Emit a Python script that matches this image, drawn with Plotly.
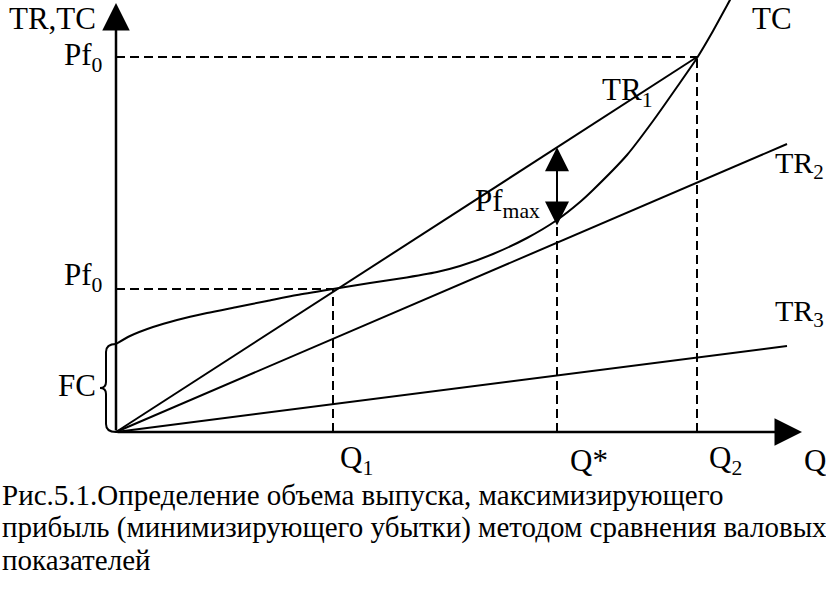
import plotly.graph_objects as go

# Data (units: screen-ish units relative to origin)
q_marks = {"Q1": 217, "Qstar": 441, "Q2": 581}
pf0_low = 143
pf0_high = 375
fc = 88

tr1_end = (581, 375)
tr2_end = (671, 288)
tr3_end = (671, 86)

tc_q = [0, 14, 37, 61, 91, 121, 151, 181, 217, 254, 284, 321, 344, 377, 411, 441, 464, 477, 511, 537, 561, 581, 597, 614, 624]
tc_v = [88, 96, 105, 112, 119, 125, 131, 137, 143, 149, 153.5, 160, 166, 178, 194, 212, 230, 242, 277, 311, 345, 374, 401, 432, 450]

x_axis_end = 686
y_axis_end = 429
pfmax_top = q_marks["Qstar"] * tr1_end[1] / tr1_end[0]
pfmax_bot = 205

FONT = "Liberation Serif"
LW = 2

fig = go.Figure()

def line(xs, ys, dash="solid", width=LW):
    fig.add_trace(go.Scatter(x=xs, y=ys, mode="lines",
                             line=dict(color="black", width=width, dash=dash),
                             hoverinfo="skip", showlegend=False))

# revenue lines
line([0, tr1_end[0]], [0, tr1_end[1]])
line([0, tr2_end[0]], [0, tr2_end[1]])
line([0, tr3_end[0]], [0, tr3_end[1]])
# TC curve
fig.add_trace(go.Scatter(x=tc_q, y=tc_v, mode="lines",
                         line=dict(color="black", width=LW, shape="spline", smoothing=0.6),
                         hoverinfo="skip", showlegend=False))

# dashed guides
dash = "9px,5px"
line([0, q_marks["Q2"]], [pf0_high, pf0_high], dash=dash)
line([q_marks["Q2"], q_marks["Q2"]], [0, pf0_high], dash=dash)
line([0, q_marks["Q1"]], [pf0_low, pf0_low], dash=dash)
line([q_marks["Q1"], q_marks["Q1"]], [0, pf0_low], dash=dash)
line([q_marks["Qstar"], q_marks["Qstar"]], [0, pfmax_bot], dash=dash)

annotations = []
# axes with arrows
annotations.append(dict(x=x_axis_end, y=0, ax=0, ay=0, xref="x", yref="y", axref="x", ayref="y",
                        showarrow=True, arrowhead=2, arrowsize=2.2, arrowwidth=2.5, arrowcolor="black", text=""))
annotations.append(dict(x=0, y=y_axis_end, ax=0, ay=0, xref="x", yref="y", axref="x", ayref="y",
                        showarrow=True, arrowhead=2, arrowsize=2.2, arrowwidth=2.5, arrowcolor="black", text=""))
# Pfmax double arrow
annotations.append(dict(x=q_marks["Qstar"], y=pfmax_top, ax=q_marks["Qstar"], ay=pfmax_bot,
                        xref="x", yref="y", axref="x", ayref="y",
                        showarrow=True, arrowhead=2, startarrowhead=2, arrowside="end+start",
                        arrowsize=2.4, startarrowsize=2.4, arrowwidth=2, arrowcolor="black", text=""))

def label(x, y, text, xanchor="left", size=31):
    annotations.append(dict(x=x, y=y, xref="x", yref="y", text=text, showarrow=False,
                            xanchor=xanchor, yanchor="middle",
                            font=dict(family=FONT, size=size, color="black")))

label(-18, 414, "TR,TC", xanchor="right")
label(-11, pf0_high, "Pf<sub>0</sub>", xanchor="right")
label(-11, pf0_low + 12, "Pf<sub>0</sub>", xanchor="right")
label(-18, 47, "FC", xanchor="right")
label(484, 340, "TR<sub>1</sub>")
label(634, 414, "TC")
label(710, 267, "TR<sub>2</sub>", xanchor="right", size=30)
label(710, 119, "TR<sub>3</sub>", xanchor="right", size=30)
label(357, 229, "Pf<sub>max</sub>")
label(222, -28, "Q<sub>1</sub>")
label(452, -28, "Q*")
label(591, -28, "Q<sub>2</sub>")
label(686, -28, "Q")

caption = ["Рис.5.1.Определение объема выпуска, максимизирующего",
           "прибыль (минимизирующего убытки) методом сравнения валовых",
           "показателей"]
for i, c in enumerate(caption):
    label(-116, -63 - 32.5 * i, c, size=29)

# FC brace
m = fc / 2
brace = (f"M 0,{fc} Q -10,{fc} -10,{fc-8} L -10,{m+6} Q -10,{m} -16,{m} "
         f"Q -10,{m} -10,{m-6} L -10,8 Q -10,0 0,0")
fig.add_shape(type="path", path=brace, xref="x", yref="y", line=dict(color="black", width=2))

fig.update_layout(
    width=826, height=606, margin=dict(l=0, r=0, t=0, b=0),
    paper_bgcolor="white", plot_bgcolor="white",
    xaxis=dict(range=[-116, 710], visible=False, fixedrange=True),
    yaxis=dict(range=[-174, 432], visible=False, fixedrange=True),
    annotations=annotations, showlegend=False,
)
fig.write_html("out.html", config={"displayModeBar": False},
               post_script="document.body.style.margin='0px';")
